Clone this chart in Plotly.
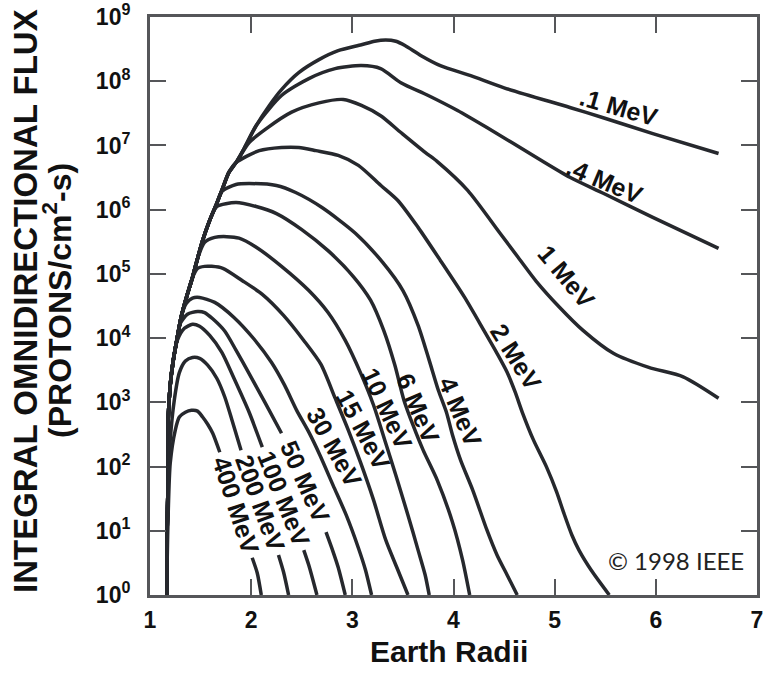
import plotly.graph_objects as go

# ---------------- data (Earth radii, integral flux) ----------------
# common steep inner edge shared by all curves
env_x = [1.17, 1.17, 1.18, 1.18, 1.20, 1.23, 1.27, 1.31, 1.36, 1.42, 1.47, 1.52, 1.59,
         1.66, 1.71, 1.78, 1.85, 1.93, 2.05, 2.18, 2.30, 2.47, 2.67, 2.86, 3.09, 3.22, 3.33]
env_f = [1, 10.3, 88, 530, 1.85e3, 4.5e3, 1.03e4, 2.2e4, 4.3e4, 8.8e4, 1.74e5, 3.3e5, 6.8e5,
         1.25e6, 1.99e6, 3.8e6, 5.4e6, 8.95e6, 2.04e7, 4.2e7, 7.4e7, 1.36e8, 2.17e8, 2.99e8,
         3.7e8, 4.2e8, 4.4e8]

energies = [".1 MeV", ".4 MeV", "1 MeV", "2 MeV", "4 MeV", "6 MeV", "10 MeV",
            "15 MeV", "30 MeV", "50 MeV", "100 MeV", "200 MeV", "400 MeV"]
# how many points of the shared edge each curve follows before it branches off
edge_points = [27, 19, 17, 17, 14, 13, 11, 10, 8, 7, 6, 0, 0]

x_e01 = [3.43, 3.52, 3.68, 3.87, 4.17, 4.50, 5.15, 5.48, 5.97, 6.62]
f_e01 = [4.2e8, 3.6e8, 2.5e8, 1.75e8, 1.22e8, 7.9e7, 3.9e7, 2.7e7, 1.53e7, 7.5e6]

x_e04 = [2.30, 2.57, 2.83, 3.09, 3.28, 3.48, 3.75, 4.04, 4.33, 4.82, 5.15, 5.48, 5.97, 6.62]
f_e04 = [6.0e7, 1.1e8, 1.57e8, 1.75e8, 1.57e8, 9.5e7, 6.0e7, 3.5e7, 1.9e7, 6.5e6, 3.2e6,
         1.8e6, 7.6e5, 2.5e5]

x_e1 = [1.98, 2.15, 2.40, 2.67, 2.91, 3.09, 3.28, 3.48, 3.72, 3.84, 4.14, 4.46, 4.64, 4.82,
        5.05, 5.28, 5.58, 5.93, 6.27, 6.62]
f_e1 = [1.11e7, 1.83e7, 3.3e7, 4.6e7, 5.2e7, 4.2e7, 2.9e7, 1.59e7, 7.8e6, 5.6e6, 2.0e6,
        4.3e5, 1.8e5, 7.6e4, 3.0e4, 1.32e4, 5.8e3, 3.5e3, 2.5e3, 1.16e3]

x_e2 = [2.08, 2.30, 2.47, 2.64, 2.86, 3.06, 3.28, 3.45, 3.65, 3.87, 4.11, 4.30, 4.43, 4.53,
        4.61, 4.68, 4.79, 4.92, 5.02, 5.09, 5.17, 5.24, 5.36, 5.54]
f_e2 = [8.3e6, 9.3e6, 9.3e6, 8.3e6, 7.0e6, 4.9e6, 2.4e6, 1.39e6, 5.3e5, 1.62e5, 4.3e4,
        1.32e4, 5.8e3, 2.94e3, 1.44e3, 700, 260, 98, 40, 19, 8.6, 5.0, 2.45, 1]

x_e4 = [1.71, 1.85, 1.98, 2.25, 2.44, 2.70, 3.03, 3.30, 3.50, 3.65, 3.76, 3.85, 3.93, 3.99,
        4.07, 4.19, 4.33, 4.43, 4.53, 4.63]
f_e4 = [1.92e6, 2.47e6, 2.55e6, 2.38e6, 1.85e6, 1.08e6, 4.3e5, 1.51e5, 5.5e4, 1.58e4,
        4.5e3, 1.54e3, 700, 310, 126, 43, 10.3, 4.2, 2.05, 1]

x_e6 = [1.66, 1.85, 2.05, 2.25, 2.50, 2.76, 3.01, 3.18, 3.31, 3.42, 3.51, 3.60, 3.70, 3.84,
        3.99, 4.09, 4.16]
f_e6 = [1.12e6, 1.29e6, 1.12e6, 8.7e5, 4.9e5, 2.3e5, 9.1e4, 3.9e4, 1.32e4, 3.8e3, 1.08e3,
        440, 180, 61, 13.6, 3.5, 1]

x_e10 = [1.54, 1.64, 1.76, 1.88, 2.05, 2.30, 2.57, 2.76, 2.93, 3.08, 3.21, 3.32, 3.43, 3.55,
         3.65, 3.72, 3.76]
f_e10 = [3.1e5, 3.7e5, 3.8e5, 3.6e5, 2.6e5, 1.31e5, 5.5e4, 2.5e4, 9.2e3, 2.9e3, 900, 260,
         73, 17.5, 5.0, 2.05, 1]

x_e15 = [1.47, 1.54, 1.61, 1.72, 1.91, 2.11, 2.32, 2.52, 2.69, 2.83, 2.96, 3.08, 3.21, 3.33,
         3.45, 3.55]
f_e15 = [1.22e5, 1.31e5, 1.31e5, 1.22e5, 7.9e4, 4.8e4, 2.26e4, 9.2e3, 3.9e3, 1.16e3, 370,
         117, 30, 7.2, 2.45, 1]

x_e30 = [1.36, 1.42, 1.49, 1.64, 1.83, 2.03, 2.20, 2.33, 2.45, 2.57, 2.68, 2.81, 2.94, 3.06,
         3.13, 3.19]
f_e30 = [3.5e4, 4.2e4, 4.3e4, 3.6e4, 2.1e4, 9.6e3, 4.2e3, 1.85e3, 750, 343, 150, 51, 17.5,
         5.4, 2.45, 1]

# None marks the break in the line where the label is written
x_e50 = [1.30, 1.37, 1.47, 1.54, 1.62, 1.74, 1.85, 1.98, 2.14, 2.30, None, 2.74, 2.81, 2.86, 2.93]
f_e50 = [1.7e4, 2.35e4, 2.6e4, 2.5e4, 2.0e4, 1.28e4, 6.5e3, 2.8e3, 970, 330, None, 9.5, 4.7, 2.7, 1]

x_e100 = [1.27, 1.34, 1.42, 1.49, 1.59, 1.71, 1.83, 1.98, 2.11, None, 2.52, 2.57, 2.65]
f_e100 = [9.2e3, 1.42e4, 1.64e4, 1.53e4, 1.1e4, 6.0e3, 2.37e3, 700, 200, None, 5.0, 2.9, 1]

x_e200 = [1.17, 1.17, 1.18, 1.20, 1.24, 1.29, 1.35, 1.42, 1.49, 1.57, 1.66, 1.74, 1.81, 1.90,
          None, 2.27, 2.32, 2.37]
f_e200 = [1, 10.3, 61, 260, 1.08e3, 2.9e3, 4.4e3, 5.0e3, 4.85e3, 3.8e3, 2.37e3, 1.2e3, 530,
          180, None, 4.2, 2.28, 1]

x_e400 = [1.17, 1.17, 1.18, 1.20, 1.25, 1.29, 1.35, 1.41, 1.47, 1.52, 1.57, 1.62, 1.69, None,
          2.01, 2.06, 2.10]
f_e400 = [1, 3.5, 19, 113, 370, 590, 700, 750, 730, 590, 456, 330, 167, None, 3.8, 2.2, 1]

tails_x = [x_e01, x_e04, x_e1, x_e2, x_e4, x_e6, x_e10, x_e15, x_e30, x_e50, x_e100, x_e200, x_e400]
tails_f = [f_e01, f_e04, f_e1, f_e2, f_e4, f_e6, f_e10, f_e15, f_e30, f_e50, f_e100, f_e200, f_e400]

x_ticks = [1, 2, 3, 4, 5, 6, 7]
y_ticks = [1e0, 1e1, 1e2, 1e3, 1e4, 1e5, 1e6, 1e7, 1e8, 1e9]
y_tick_text = ["10<sup>%d</sup>" % k for k in range(10)]

# ---------------- label placement (x, log10 y, angle) ----------------
label_place = [
    (5.64, 7.60, 16), (5.50, 6.45, 23), (5.12, 4.95, 50), (4.62, 3.71, 58),
    (4.07, 2.85, 67), (3.65, 2.91, 67), (3.34, 2.91, 65), (3.11, 2.57, 62),
    (2.82, 2.30, 61), (2.53, 1.77, 66), (2.32, 1.51, 68), (2.09, 1.43, 70),
    (1.85, 1.40, 72),
]

CURVE = "#26282d"
AXIS = "#555659"
FONT = "Liberation Sans"

fig = go.Figure()
for n_env, tx, tf in zip(edge_points, tails_x, tails_f):
    fig.add_trace(go.Scatter(
        x=env_x[:n_env] + tx, y=env_f[:n_env] + tf, mode="lines",
        line=dict(color=CURVE, width=3.5, shape="spline", smoothing=0.7),
        connectgaps=False, hoverinfo="skip", showlegend=False))

annotations = []
for name, (lx, ly, ang) in zip(energies, label_place):
    annotations.append(dict(x=lx, y=ly, xref="x", yref="y", text=name, showarrow=False,
                            textangle=ang, xanchor="center", yanchor="middle",
                            font=dict(family=FONT, size=25, color="#111", weight="bold")))

annotations += [
    dict(x=-0.204, y=0.509, xref="paper", yref="paper", text="INTEGRAL OMNIDIRECTIONAL FLUX",
         textangle=-90, showarrow=False, xanchor="center", yanchor="middle",
         font=dict(family=FONT, size=33, color="#111", weight="bold")),
    dict(x=-0.153, y=0.509, xref="paper", yref="paper", text="(PROTONS/cm<sup>2</sup>-s)",
         textangle=-90, showarrow=False, xanchor="center", yanchor="middle",
         font=dict(family=FONT, size=32, color="#111", weight="bold")),
    dict(x=0.493, y=-0.098, xref="paper", yref="paper", text="Earth Radii",
         showarrow=False, xanchor="center", yanchor="middle",
         font=dict(family=FONT, size=30, color="#111", weight="bold")),
    dict(x=0.866, y=0.060, xref="paper", yref="paper", text="© 1998 IEEE",
         showarrow=False, xanchor="center", yanchor="middle",
         font=dict(family="Lato", size=24, color="#222")),
]

axis_common = dict(ticks="inside", ticklen=16, tickwidth=2, tickcolor=AXIS,
                   showline=True, linewidth=3, linecolor=AXIS, mirror="ticks",
                   showgrid=False, zeroline=False, ticklabeloverflow="allow",
                   tickfont=dict(family=FONT, size=23, color="#111", weight="bold"))

fig.update_xaxes(range=[1, 7], tickvals=x_ticks, ticktext=[str(v) for v in x_ticks],
                 ticklabelstandoff=2, **axis_common)
fig.update_yaxes(type="log", range=[0, 9], tickvals=y_ticks, ticktext=y_tick_text,
                 ticklabelstandoff=12, **axis_common)

fig.update_layout(width=763, height=674, margin=dict(l=150, r=0, t=16, b=79),
                  paper_bgcolor="white", plot_bgcolor="white", showlegend=False,
                  annotations=annotations)

fig.write_html("out.html", config={"displayModeBar": False, "staticPlot": True},
               post_script="document.body.style.margin='0px';"
                           "document.body.style.overflow='hidden';")
